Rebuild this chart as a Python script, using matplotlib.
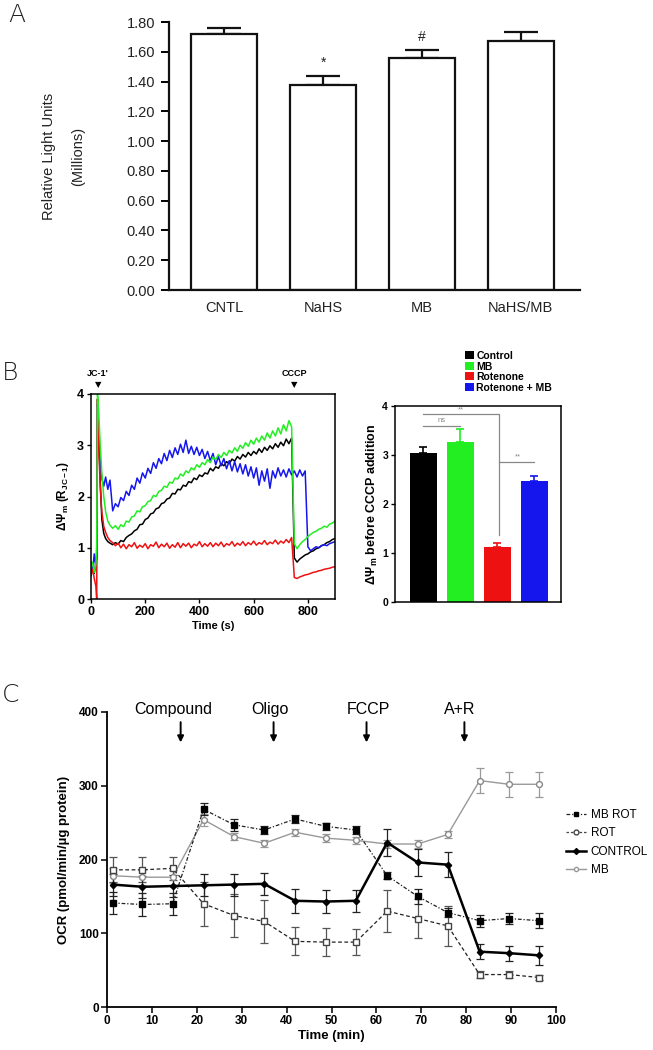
import numpy as np
import matplotlib
matplotlib.use("Agg")
import matplotlib.pyplot as plt
from matplotlib.patches import Patch
from matplotlib.lines import Line2D

plt.rcParams['font.family'] = ['Liberation Sans', 'DejaVu Sans']
plt.rcParams['mathtext.fontset'] = 'custom'
plt.rcParams['mathtext.rm'] = 'Liberation Sans'
plt.rcParams['mathtext.bf'] = 'Liberation Sans:bold'
plt.rcParams['mathtext.it'] = 'Liberation Sans:italic'

# ---- Panel A data ----
a_groups = ['CNTL', 'NaHS', 'MB', 'NaHS/MB']
a_means = [1.72, 1.38, 1.56, 1.67]
a_errs = [0.04, 0.06, 0.05, 0.06]
a_marks = ['', '*', '#', '']

# ---- Panel B trace data (time in s) ----
time_s = [0, 6, 12, 18, 21, 24, 28, 34, 40, 47, 54, 62, 70] + list(range(80, 901, 10))
trace_black = [0.55, 0.65, 0.50, 0.70, 0.80, 3.90, 3.30, 2.30, 1.55, 1.28, 1.18, 1.12, 1.09,
               1.06, 1.10, 1.07, 1.14, 1.12, 1.20, 1.24, 1.27, 1.33, 1.36, 1.45, 1.46, 1.55, 1.58,
               1.66, 1.68, 1.76, 1.78, 1.86, 1.88, 1.95, 1.97, 2.06, 2.05, 2.14, 2.13, 2.22, 2.20,
               2.29, 2.27, 2.36, 2.33, 2.42, 2.39, 2.46, 2.44, 2.55, 2.50, 2.58, 2.55, 2.64, 2.60,
               2.68, 2.64, 2.73, 2.69, 2.78, 2.73, 2.82, 2.77, 2.86, 2.80, 2.88, 2.83, 2.93, 2.86,
               2.96, 2.90, 2.99, 2.93, 3.03, 2.96, 3.06, 2.99, 3.12, 3.03, 3.14,
               0.80, 0.72, 0.78, 0.82, 0.86, 0.88, 0.92, 0.94, 0.98, 1.00, 1.04, 1.06, 1.10, 1.12,
               1.16, 1.18]
trace_green = [0.60, 0.72, 0.52, 0.68, 1.00, 4.00, 3.70, 3.00, 2.45, 2.00, 1.70, 1.52, 1.44,
               1.38, 1.43, 1.36, 1.45, 1.41, 1.52, 1.50, 1.60, 1.62, 1.72, 1.70, 1.80, 1.82, 1.90,
               1.92, 2.02, 2.00, 2.10, 2.12, 2.20, 2.18, 2.28, 2.26, 2.36, 2.34, 2.44, 2.40, 2.50,
               2.46, 2.56, 2.52, 2.62, 2.57, 2.66, 2.62, 2.72, 2.66, 2.77, 2.72, 2.82, 2.76, 2.86,
               2.80, 2.90, 2.85, 2.95, 2.88, 3.00, 2.94, 3.05, 2.98, 3.10, 3.02, 3.14, 3.06, 3.18,
               3.10, 3.24, 3.14, 3.28, 3.18, 3.34, 3.22, 3.40, 3.28, 3.48, 3.36,
               1.08, 0.98, 1.06, 1.12, 1.16, 1.22, 1.26, 1.30, 1.32, 1.36, 1.38, 1.42, 1.40, 1.46,
               1.48, 1.52]
trace_red = [0.45, 0.58, 0.40, 0.25, 0.00, 3.90, 3.00, 2.20, 1.70, 1.42, 1.30, 1.20, 1.14,
             1.10, 1.04, 1.09, 1.00, 1.07, 0.98, 1.06, 1.02, 1.10, 0.99, 1.05, 1.01, 1.08, 0.98,
             1.06, 1.03, 1.11, 1.00, 1.07, 1.02, 1.09, 0.99, 1.06, 1.01, 1.10, 1.00, 1.08, 1.03,
             1.09, 1.00, 1.07, 1.04, 1.12, 1.02, 1.08, 1.03, 1.10, 1.02, 1.09, 1.04, 1.11, 1.02,
             1.08, 1.05, 1.12, 1.03, 1.09, 1.05, 1.12, 1.04, 1.10, 1.06, 1.13, 1.05, 1.10, 1.07,
             1.14, 1.06, 1.11, 1.08, 1.15, 1.07, 1.13, 1.09, 1.16, 1.10, 1.20,
             0.42, 0.40, 0.43, 0.45, 0.47, 0.48, 0.50, 0.52, 0.53, 0.55, 0.56, 0.58, 0.59, 0.60,
             0.62, 0.63]
trace_blue = [0.72, 0.55, 0.88, 0.62, 0.90, 3.80, 3.30, 2.70, 2.35, 2.20, 2.38, 2.14, 2.32,
              1.72, 1.86, 1.80, 1.98, 1.92, 2.10, 2.02, 2.22, 2.14, 2.36, 2.26, 2.46, 2.36, 2.55,
              2.45, 2.66, 2.55, 2.74, 2.64, 2.84, 2.70, 2.90, 2.76, 2.95, 2.82, 3.02, 2.86, 3.10,
              2.84, 2.98, 2.82, 2.96, 2.80, 2.92, 2.74, 2.88, 2.70, 2.84, 2.62, 2.78, 2.60, 2.74,
              2.54, 2.70, 2.50, 2.68, 2.48, 2.64, 2.44, 2.62, 2.40, 2.58, 2.36, 2.56, 2.22, 2.50,
              2.30, 2.54, 2.16, 2.50, 2.36, 2.56, 2.40, 2.52, 2.38, 2.54, 2.42,
              2.50, 2.38, 2.52, 2.40, 2.50, 1.02, 0.94, 0.98, 1.02, 1.00, 1.04, 1.06, 1.04, 1.08,
              1.10, 1.12]

# ---- Panel B bar data ----
b_groups = ['Control', 'MB', 'Rotenone', 'Rotenone + MB']
b_means = [3.05, 3.27, 1.12, 2.47]
b_errs = [0.12, 0.27, 0.08, 0.10]
b_colors = ['#000000', '#22ee22', '#ee1111', '#1515ee']

# ---- Panel C data ----
time_min = [1.3, 7.9, 14.6, 21.5, 28.3, 35.0, 41.9, 48.7, 55.4, 62.4, 69.2, 75.9, 83.0, 89.5, 96.3]
ocr_mbrot = [141, 139, 140, 268, 247, 240, 255, 245, 240, 178, 150, 128, 117, 120, 117]
err_mbrot = [15, 16, 15, 8, 8, 6, 6, 5, 6, 5, 10, 6, 8, 8, 10]
ocr_rot = [186, 186, 188, 140, 124, 116, 89, 88, 88, 130, 120, 110, 44, 44, 40]
err_rot = [17, 17, 16, 30, 29, 29, 19, 19, 18, 28, 27, 27, 5, 5, 4]
ocr_control = [166, 163, 164, 165, 166, 167, 144, 143, 144, 223, 196, 193, 75, 73, 70]
err_control = [15, 15, 15, 15, 15, 15, 16, 16, 15, 18, 18, 17, 10, 10, 13]
ocr_mb = [178, 176, 176, 254, 231, 222, 237, 229, 226, 221, 221, 234, 307, 302, 302]
err_mb = [10, 10, 10, 8, 5, 5, 5, 5, 5, 5, 5, 5, 17, 17, 17]
inject_labels = ['Compound', 'Oligo', 'FCCP', 'A+R']
inject_times = [16.4, 37.1, 57.8, 79.6]

fig = plt.figure(figsize=(6.53, 10.5), dpi=100)
W, H = 653, 1050


def box(l, t, r, b):
    return [l / W, 1 - b / H, (r - l) / W, (b - t) / H]


letter_kw = dict(fontsize=18, family=['DejaVu Sans'], fontweight='light', color='#222222')
fig.text(8 / W, 1 - 3 / H, 'A', va='top', **letter_kw)
fig.text(2 / W, 1 - 361 / H, 'B', va='top', **letter_kw)
fig.text(2 / W, 1 - 683 / H, 'C', va='top', **letter_kw)

# ================= Panel A =================
axA = fig.add_axes(box(169, 22, 580, 290))
xa = np.arange(len(a_groups))
axA.bar(xa, a_means, width=0.67, color='white', edgecolor='#111111', linewidth=1.6, zorder=2)
axA.errorbar(xa, a_means, yerr=[np.zeros(len(a_errs)), a_errs], fmt='none', ecolor='#111111',
             elinewidth=1.6, capsize=12, capthick=1.6, zorder=1)
for x, m, e, s in zip(xa, a_means, a_errs, a_marks):
    if s:
        axA.text(x, m + e + 0.04, s, ha='center', va='bottom', fontsize=10, color='#222222')
axA.set_xlim(-0.56, 3.6)
axA.set_ylim(0, 1.8)
axA.set_yticks(np.arange(0, 1.81, 0.2))
axA.set_yticklabels(['%.2f' % v for v in np.arange(0, 1.81, 0.2)])
axA.set_xticks(xa)
axA.set_xticklabels(a_groups, fontsize=10.5, color='#222222')
axA.tick_params(axis='x', length=0, pad=8)
axA.tick_params(axis='y', direction='out', length=6, width=1.4, labelsize=10.5,
                labelcolor='#222222', pad=4)
for sp in ['top', 'right']:
    axA.spines[sp].set_visible(False)
for sp in ['left', 'bottom']:
    axA.spines[sp].set_linewidth(1.6)
    axA.spines[sp].set_color('#111111')
axA.set_ylabel('Relative Light Units\n(Millions)', fontsize=10.5, color='#222222',
               linespacing=2.3, labelpad=30)

# ================= Panel B (traces) =================
axB = fig.add_axes(box(91, 394, 335, 599))
axB.plot(time_s, trace_black, color='black', lw=1.1)
axB.plot(time_s, trace_blue, color=b_colors[3], lw=1.1)
axB.plot(time_s, trace_red, color=b_colors[2], lw=1.1)
axB.plot(time_s, trace_green, color=b_colors[1], lw=1.1)
axB.set_xlim(0, 900)
axB.set_ylim(0, 4)
axB.set_xticks([0, 200, 400, 600, 800])
axB.set_yticks([0, 1, 2, 3, 4])
axB.tick_params(direction='out', length=3, width=1, labelsize=9, pad=2)
for lab in axB.get_xticklabels() + axB.get_yticklabels():
    lab.set_fontweight('bold')
for sp in axB.spines.values():
    sp.set_linewidth(1.1)
axB.set_xlabel('Time (s)', fontsize=8, fontweight='bold', labelpad=2)
axB.set_ylabel(r'ΔΨ$_{\mathbf{m}}$ (R$_{\mathbf{JC-1}}$)', fontsize=8.5, fontweight='bold',
               labelpad=4)
for t, lab in [(25, "JC-1'"), (750, 'CCCP')]:
    axB.text(t, 1.045, '▼', transform=axB.get_xaxis_transform(), ha='center', va='center',
             fontsize=6, family=['DejaVu Sans'])
    axB.text(t, 1.10, lab, transform=axB.get_xaxis_transform(), ha='center', va='center',
             fontsize=6.5, fontweight='bold')

# ================= Panel B (bars) =================
axBb = fig.add_axes(box(395, 406, 561, 602))
xb = np.arange(len(b_groups))
axBb.bar(xb, b_means, width=0.73, color=b_colors, zorder=2)
for x, m, e, c in zip(xb, b_means, b_errs, b_colors):
    axBb.errorbar(x, m, yerr=[[0], [e]], fmt='none', ecolor=c, elinewidth=1.2, capsize=3,
                  capthick=1.2, zorder=1)
axBb.set_xlim(-0.77, 3.72)
axBb.set_ylim(0, 4)
axBb.set_xticks([])
axBb.set_yticks([0, 1, 2, 3, 4])
axBb.tick_params(direction='out', length=3, width=1, labelsize=7.5, pad=2)
for lab in axBb.get_yticklabels():
    lab.set_fontweight('bold')
for sp in axBb.spines.values():
    sp.set_linewidth(1.1)
axBb.set_ylabel(r'ΔΨ$_{\mathbf{m}}$ before CCCP addition', fontsize=9, fontweight='bold',
                labelpad=2)
sig = '#888888'
axBb.plot([0, 1], [3.6, 3.6], color=sig, lw=0.9)
axBb.text(0.5, 3.63, 'ns', ha='center', va='bottom', fontsize=5.5, color=sig)
axBb.plot([0, 2.05, 2.05], [3.83, 3.83, 1.36], color=sig, lw=0.9)
axBb.text(1.0, 3.85, '**', ha='center', va='bottom', fontsize=5.5, color=sig)
axBb.plot([2.05, 3], [2.86, 2.86], color=sig, lw=0.9)
axBb.text(2.55, 2.88, '**', ha='center', va='bottom', fontsize=5.5, color=sig)
leg_handles = [Patch(facecolor=c, edgecolor='none') for c in b_colors]
fig.legend(leg_handles, b_groups, loc='upper left', bbox_to_anchor=(465 / W, 1 - 351 / H),
           frameon=False, prop={'weight': 'bold', 'size': 7.5},
           handlelength=0.9, handleheight=0.8, handletextpad=0.2, labelspacing=0.05,
           borderpad=0, borderaxespad=0)

# ================= Panel C =================
axC = fig.add_axes(box(107, 712, 556, 1007))
ebk = dict(capsize=3, elinewidth=0.9, capthick=0.9, markersize=4.2)
axC.errorbar(time_min, ocr_mb, yerr=err_mb, color='#999999', ecolor='#999999', lw=1.0,
             marker='o', mfc='white', mec='#888888', **ebk)
axC.errorbar(time_min, ocr_rot, yerr=err_rot, color='#222222', ecolor='#555555', lw=0.9,
             ls=(0, (3, 2)), marker='s', mfc='white', mec='#444444', **ebk)
axC.errorbar(time_min, ocr_mbrot, yerr=err_mbrot, color='#222222', ecolor='#222222', lw=0.9,
             ls=(0, (3, 1.5, 1, 1.5)), marker='s', mfc='black', mec='black', **ebk)
axC.errorbar(time_min, ocr_control, yerr=err_control, color='black', ecolor='#222222', lw=1.8,
             marker='D', mfc='black', mec='black', capsize=3, elinewidth=0.9, capthick=0.9,
             markersize=3.2)
axC.set_xlim(0, 100)
axC.set_ylim(0, 400)
axC.set_xticks(np.arange(0, 101, 10))
axC.set_yticks([0, 100, 200, 300, 400])
axC.tick_params(direction='out', length=4, width=1.1, labelsize=8.5, pad=2)
for lab in axC.get_xticklabels() + axC.get_yticklabels():
    lab.set_fontweight('bold')
for sp in ['top', 'right']:
    axC.spines[sp].set_visible(False)
for sp in ['left', 'bottom']:
    axC.spines[sp].set_linewidth(1.3)
axC.set_xlabel('Time (min)', fontsize=9.5, fontweight='bold', labelpad=2)
axC.set_ylabel('OCR (pmol/min/µg protein)', fontsize=9.5, fontweight='bold', labelpad=6)
label_dx = [-1.7, -0.7, 0.4, -1.0]
for lab, t, dx in zip(inject_labels, inject_times, label_dx):
    axC.annotate('', xy=(t, 355), xytext=(t, 390), annotation_clip=False,
                 arrowprops=dict(arrowstyle='-|>', color='black', lw=1.4, mutation_scale=9))
    axC.text(t + dx, 404, lab, ha='center', va='center', fontsize=11.5, clip_on=False)
leg_c = [
    Line2D([], [], color='#222222', lw=0.9, ls=(0, (3, 1.5, 1, 1.5)), marker='s', mfc='black',
           mec='black', markersize=3.5),
    Line2D([], [], color='#444444', lw=0.9, ls=(0, (2, 1.5)), marker='o', mfc='white',
           mec='#444444', markersize=3.5),
    Line2D([], [], color='black', lw=1.8, marker='D', mfc='black', mec='black', markersize=3),
    Line2D([], [], color='#999999', lw=1.0, marker='o', mfc='white', mec='#999999', markersize=3),
]
fig.legend(leg_c, ['MB ROT', 'ROT', 'CONTROL', 'MB'], loc='upper left',
           bbox_to_anchor=(566 / W, 1 - 809 / H), frameon=False, fontsize=8.5,
           handlelength=1.7, handletextpad=0.4, labelspacing=0.55, borderpad=0,
           borderaxespad=0)

fig.savefig('out.png', dpi=100, facecolor='white')
